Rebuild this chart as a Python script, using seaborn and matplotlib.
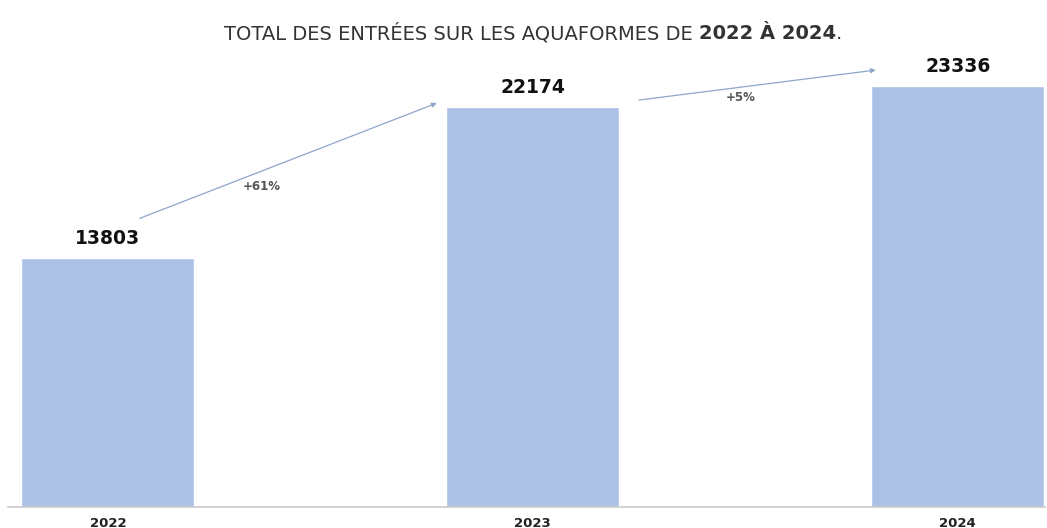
import matplotlib
matplotlib.use("Agg")
import matplotlib.pyplot as plt
import seaborn as sns
import pandas as pd

years = ["2022", "2023", "2024"]
entries = [13803, 22174, 23336]

BAR_COLOR = "#abc1e6"
ARROW_COLOR = "#8ea6c9"

sns.set_theme(style="white")
plt.rcParams["font.family"] = ["DejaVu Sans"]

df = pd.DataFrame({"year": years, "entries": entries})

fig = plt.figure(figsize=(10.47, 5.28), dpi=100)
ax = fig.add_axes([0.0076, 0.0398, 0.9904, 0.871])
sns.barplot(data=df, x="year", y="entries", color=BAR_COLOR, width=0.407,
            saturation=1, ax=ax)
ax.set_xlim(-0.235, 2.205)
ax.set_ylim(0, 25500)
ax.set_xlabel("")
ax.set_ylabel("")
ax.set_yticks([])
for s in ["top", "left", "right"]:
    ax.spines[s].set_visible(False)
ax.spines["bottom"].set_color("#c9c9c9")
ax.spines["bottom"].set_linewidth(1.2)
ax.tick_params(axis="x", length=0, pad=7)
for lab in ax.get_xticklabels():
    lab.set_fontfamily("DejaVu Sans")
    lab.set_fontweight("bold")
    lab.set_fontsize(9.5)
    lab.set_color("#222222")

# value labels
for i, v in enumerate(entries):
    ax.annotate(f"{v}", xy=(i, v), xytext=(0, 7), textcoords="offset points",
                ha="center", va="bottom", fontsize=13.5, fontweight="bold",
                color="#111111")

# growth arrows
arrows = [((0.075, entries[0] + 2200), (0.774, entries[1] + 220), (0.362, 17790)),
          ((1.25, entries[1] + 390), (1.807, entries[2] + 890), (1.488, 22727))]
for k, (start, end, lab) in enumerate(arrows):
    ax.annotate("", xy=end, xytext=start,
                arrowprops=dict(arrowstyle="-|>", color=ARROW_COLOR, lw=0.9,
                                mutation_scale=7, shrinkA=0, shrinkB=0))
    pct = round((entries[k + 1] / entries[k] - 1) * 100)
    ax.text(lab[0], lab[1], f"+{pct}%", ha="center", va="center",
            fontsize=8.5, fontweight="bold", color="#555555")

# title with bold part
fig.canvas.draw()
r = fig.canvas.get_renderer()
parts = [("TOTAL DES ENTRÉES SUR LES AQUAFORMES DE ", "normal"),
         ("2022 À 2024", "bold"), (".", "normal")]
tobjs = []
for txt, w in parts:
    t = fig.text(0, 0.937, txt, fontsize=14, fontweight=w, fontfamily="DejaVu Sans",
                 color="#333333", va="center", ha="left")
    tobjs.append(t)
widths = [t.get_window_extent(r).width for t in tobjs]
total = sum(widths)
x0 = 533 - total / 2
for t, wd in zip(tobjs, widths):
    t.set_x(x0 / 1047)
    x0 += wd

fig.savefig("out.png", dpi=100, facecolor="white")
